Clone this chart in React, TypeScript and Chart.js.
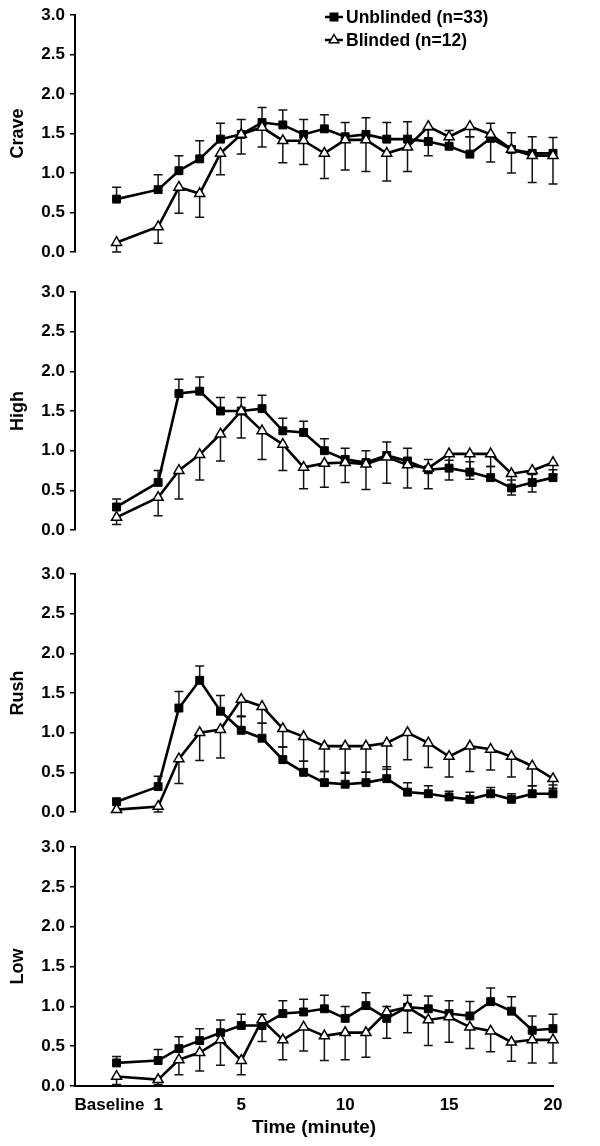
import React, { useEffect, useRef } from 'react';
import { Chart, registerables } from 'chart.js';

Chart.register(...registerables);

const FONT = '"Liberation Sans", Arial, Helvetica, sans-serif';

// x positions: -1 = Baseline, then minutes 1..20
const minutes = [-1, 1, 2, 3, 4, 5, 6, 7, 8, 9, 10, 11, 12, 13, 14, 15, 16, 17, 18, 19, 20];
const xTickValues = [-1, 1, 5, 10, 15, 20];
const xTickLabels = ['Baseline', '1', '5', '10', '15', '20'];
const seriesLabels = ['Unblinded (n=33)', 'Blinded (n=12)'];
const panelTitles = ['Crave', 'High', 'Rush', 'Low'];
const xAxisTitle = 'Time (minute)';

// Crave
const craveUnblinded = [0.67, 0.79, 1.03, 1.18, 1.43, 1.49, 1.64, 1.61, 1.49, 1.56, 1.46, 1.49, 1.43, 1.43, 1.40, 1.34, 1.24, 1.44, 1.30, 1.25, 1.25];
const craveUnblindedErr = [0.15, 0.19, 0.19, 0.23, 0.20, 0.19, 0.19, 0.19, 0.19, 0.18, 0.18, 0.21, 0.21, 0.22, 0.15, 0.20, 0.22, 0.19, 0.21, 0.21, 0.20];
const craveBlinded = [0.12, 0.32, 0.82, 0.74, 1.25, 1.49, 1.58, 1.41, 1.41, 1.25, 1.42, 1.42, 1.25, 1.33, 1.59, 1.46, 1.59, 1.49, 1.30, 1.22, 1.22];
const craveBlindedErr = [0.12, 0.21, 0.33, 0.30, 0.27, 0.25, 0.25, 0.28, 0.30, 0.32, 0.38, 0.40, 0.35, 0.31, 0.37, 0.12, 0.13, 0.35, 0.30, 0.34, 0.36];

// High
const highUnblinded = [0.29, 0.60, 1.72, 1.75, 1.50, 1.50, 1.53, 1.25, 1.23, 1.00, 0.89, 0.85, 0.94, 0.87, 0.76, 0.78, 0.73, 0.66, 0.53, 0.60, 0.66];
const highUnblindedErr = [0.10, 0.15, 0.18, 0.18, 0.17, 0.17, 0.17, 0.16, 0.14, 0.15, 0.14, 0.15, 0.17, 0.16, 0.13, 0.10, 0.13, 0.14, 0.10, 0.10, 0.10];
const highBlinded = [0.16, 0.41, 0.75, 0.95, 1.21, 1.50, 1.25, 1.08, 0.79, 0.84, 0.85, 0.83, 0.92, 0.82, 0.78, 0.96, 0.96, 0.96, 0.71, 0.75, 0.85];
const highBlindedErr = [0.09, 0.23, 0.36, 0.32, 0.34, 0.34, 0.36, 0.33, 0.27, 0.30, 0.25, 0.32, 0.33, 0.29, 0.26, 0.33, 0.32, 0.16, 0.27, 0.27, 0.15];

// Rush
const rushUnblinded = [0.13, 0.32, 1.31, 1.66, 1.27, 1.03, 0.93, 0.66, 0.50, 0.37, 0.35, 0.37, 0.42, 0.25, 0.23, 0.19, 0.16, 0.23, 0.16, 0.23, 0.23];
const rushUnblindedErr = [0.03, 0.13, 0.21, 0.18, 0.20, 0.18, 0.19, 0.16, 0.14, 0.14, 0.14, 0.13, 0.15, 0.12, 0.10, 0.07, 0.09, 0.08, 0.07, 0.10, 0.11];
const rushBlinded = [0.03, 0.07, 0.67, 1.00, 1.04, 1.42, 1.33, 1.05, 0.95, 0.83, 0.83, 0.83, 0.87, 1.00, 0.87, 0.70, 0.83, 0.79, 0.70, 0.58, 0.42];
const rushBlindedErr = [0, 0.07, 0.31, 0.35, 0.36, 0.22, 0.21, 0.23, 0.31, 0.32, 0.33, 0.33, 0.33, 0.34, 0.31, 0.26, 0.32, 0.26, 0.26, 0.25, 0.12];

// Low
const lowUnblinded = [0.29, 0.32, 0.47, 0.57, 0.67, 0.76, 0.76, 0.91, 0.93, 0.97, 0.85, 1.01, 0.85, 0.99, 0.97, 0.91, 0.88, 1.06, 0.94, 0.70, 0.72];
const lowUnblindedErr = [0.08, 0.14, 0.15, 0.15, 0.16, 0.14, 0.14, 0.16, 0.16, 0.17, 0.15, 0.16, 0.15, 0.15, 0.16, 0.16, 0.18, 0.17, 0.18, 0.18, 0.18];
const lowBlinded = [0.12, 0.08, 0.33, 0.42, 0.58, 0.32, 0.83, 0.58, 0.74, 0.63, 0.67, 0.67, 0.93, 0.99, 0.83, 0.87, 0.74, 0.69, 0.55, 0.58, 0.58];
const lowBlindedErr = [0.10, 0.06, 0.19, 0.23, 0.32, 0.18, 0.27, 0.25, 0.30, 0.31, 0.34, 0.31, 0.33, 0.32, 0.32, 0.32, 0.27, 0.26, 0.24, 0.29, 0.29];

type PanelCfg = {
  title: string;
  unb: number[]; unbErr: number[]; bl: number[]; blErr: number[];
  top: number; height: number; padTop: number; padBottom: number;
  showX: boolean; legend: boolean;
};

const PANELS: PanelCfg[] = [
  { title: panelTitles[0], unb: craveUnblinded, unbErr: craveUnblindedErr, bl: craveBlinded, blErr: craveBlindedErr, top: 0, height: 270, padTop: 13, padBottom: 18, showX: false, legend: true },
  { title: panelTitles[1], unb: highUnblinded, unbErr: highUnblindedErr, bl: highBlinded, blErr: highBlindedErr, top: 270, height: 282, padTop: 22, padBottom: 22, showX: false, legend: false },
  { title: panelTitles[2], unb: rushUnblinded, unbErr: rushUnblindedErr, bl: rushBlinded, blErr: rushBlindedErr, top: 552, height: 280, padTop: 22, padBottom: 20, showX: false, legend: false },
  { title: panelTitles[3], unb: lowUnblinded, unbErr: lowUnblindedErr, bl: lowBlinded, blErr: lowBlindedErr, top: 832, height: 314, padTop: 15, padBottom: 0, showX: true, legend: false },
];

const errorBarPlugin = {
  id: 'errorBars',
  beforeDatasetsDraw(chart: any) {
    const { ctx } = chart;
    const xs = chart.scales.x;
    const ys = chart.scales.y;
    ctx.save();
    ctx.strokeStyle = '#111';
    ctx.lineWidth = 1.5;
    chart.data.datasets.forEach((ds: any) => {
      const errs: number[] = ds.errors || [];
      const dir: number = ds.errDir || 1;
      ds.data.forEach((pt: any, i: number) => {
        const e = errs[i];
        if (!e) return;
        const px = xs.getPixelForValue(pt.x);
        const p0 = ys.getPixelForValue(pt.y);
        const p1 = ys.getPixelForValue(pt.y + dir * e);
        ctx.beginPath();
        ctx.moveTo(px, p0);
        ctx.lineTo(px, p1);
        ctx.moveTo(px - 4.5, p1);
        ctx.lineTo(px + 4.5, p1);
        ctx.stroke();
      });
    });
    ctx.restore();
  },
};

const legendPlugin = {
  id: 'customLegend',
  afterDraw(chart: any) {
    const { ctx, chartArea } = chart;
    const x0 = chartArea.right - 228;
    const rows = [17, 40];
    ctx.save();
    ctx.font = `bold 17.5px ${FONT}`;
    ctx.fillStyle = '#000';
    ctx.textBaseline = 'middle';
    ctx.textAlign = 'left';
    rows.forEach((ry, i) => {
      ctx.strokeStyle = '#000';
      ctx.lineWidth = 2.5;
      ctx.beginPath();
      ctx.moveTo(x0, ry);
      ctx.lineTo(x0 + 18, ry);
      ctx.stroke();
      const cx = x0 + 9;
      if (i === 0) {
        ctx.fillStyle = '#000';
        ctx.fillRect(cx - 4.5, ry - 4.5, 9, 9);
      } else {
        const r = 5.5;
        ctx.beginPath();
        ctx.moveTo(cx, ry - r);
        ctx.lineTo(cx + r * 0.866, ry + r / 2);
        ctx.lineTo(cx - r * 0.866, ry + r / 2);
        ctx.closePath();
        ctx.fillStyle = '#fff';
        ctx.fill();
        ctx.lineWidth = 1.5;
        ctx.stroke();
      }
      ctx.fillStyle = '#000';
      ctx.fillText(seriesLabels[i], x0 + 21, ry + 1);
    });
    ctx.restore();
  },
};

function Panel({ cfg }: { cfg: PanelCfg }) {
  const ref = useRef<HTMLCanvasElement>(null);
  useEffect(() => {
    if (!ref.current) return;
    const chart = new Chart(ref.current, {
      type: 'line',
      data: {
        datasets: [
          {
            label: seriesLabels[0],
            data: minutes.map((m, i) => ({ x: m, y: cfg.unb[i] })),
            errors: cfg.unbErr,
            errDir: 1,
            borderColor: '#000',
            backgroundColor: '#000',
            borderWidth: 2.6,
            pointStyle: 'rect',
            pointRadius: 5.6,
            pointBackgroundColor: '#000',
            pointBorderColor: '#000',
            pointBorderWidth: 1,
            order: 1,
            clip: false,
            tension: 0,
          } as any,
          {
            label: seriesLabels[1],
            data: minutes.map((m, i) => ({ x: m, y: cfg.bl[i] })),
            errors: cfg.blErr,
            errDir: -1,
            borderColor: '#000',
            backgroundColor: '#fff',
            borderWidth: 2.6,
            pointStyle: 'triangle',
            pointRadius: 5.8,
            pointBackgroundColor: '#fff',
            pointBorderColor: '#000',
            pointBorderWidth: 1.5,
            order: 0,
            clip: false,
            tension: 0,
          } as any,
        ],
      },
      options: {
        animation: false,
        responsive: false,
        devicePixelRatio: 1,
        layout: { padding: { top: cfg.padTop, bottom: cfg.padBottom, left: 0, right: 47 } },
        plugins: { legend: { display: false }, tooltip: { enabled: false } },
        scales: {
          x: {
            type: 'linear',
            min: -3,
            max: 20,
            display: cfg.showX,
            afterBuildTicks: (s: any) => {
              s.ticks = xTickValues.map((v) => ({ value: v }));
            },
            afterFit: (s: any) => {
              if (cfg.showX) s.height = 60;
            },
            ticks: {
              autoSkip: false,
              maxRotation: 0,
              padding: 1,
              color: '#000',
              font: { family: FONT, size: 17, weight: 'bold' },
              callback: (v: any) => {
                const idx = xTickValues.indexOf(Number(v));
                if (idx < 0) return '';
                // first label sits a little left of its tick, as in the source figure
                return idx === 0 ? xTickLabels[idx] + '\u00A0\u00A0\u00A0' : xTickLabels[idx];
              },
            },
            grid: { display: false },
            border: { display: true, color: '#000', width: 2 },
            title: {
              display: true,
              text: xAxisTitle,
              color: '#000',
              font: { family: FONT, size: 19, weight: 'bold' },
              padding: { top: 0, bottom: 7 },
            },
          } as any,
          y: {
            min: 0,
            max: 3,
            afterFit: (s: any) => {
              s.width = 75;
            },
            ticks: {
              stepSize: 0.5,
              padding: 5,
              color: '#000',
              font: { family: FONT, size: 17, weight: 'bold' },
              callback: (v: any) => Number(v).toFixed(1),
            },
            grid: { display: true, drawOnChartArea: false, drawTicks: true, tickLength: 5, color: '#000', lineWidth: 1.5 },
            border: { display: true, color: '#000', width: 2 },
            title: {
              display: true,
              text: cfg.title,
              color: '#000',
              font: { family: FONT, size: 18, weight: 'bold' },
              padding: { top: 7, bottom: 0 },
            },
          } as any,
        },
      },
      plugins: cfg.legend ? [errorBarPlugin, legendPlugin] : [errorBarPlugin],
    } as any);
    return () => chart.destroy();
  }, [cfg]);
  return (
    <canvas
      ref={ref}
      width={600}
      height={cfg.height}
      style={{ position: 'absolute', left: 0, top: cfg.top, width: 600, height: cfg.height, display: 'block' }}
    />
  );
}

export default function App() {
  return (
    <div style={{ position: 'absolute', left: 0, top: 0, width: 600, height: 1146, background: '#fff' }}>
      {PANELS.map((p) => (
        <Panel key={p.title} cfg={p} />
      ))}
    </div>
  );
}
